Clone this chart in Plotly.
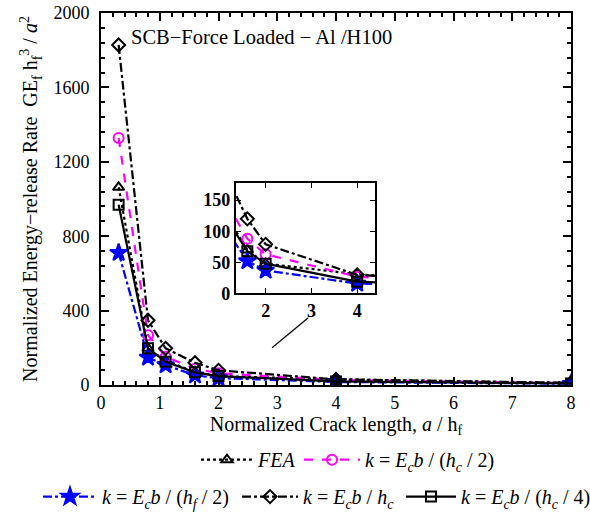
import plotly.graph_objects as go

x_vals = [0.3, 0.8, 1.1, 1.6, 2.0, 4.0, 8.0]
fea = [1063, 197, 130, 70, 48, 31, 10]
k_hc2 = [1328, 268, 152, 88, 63, 27, 10]
k_hf2 = [711, 148, 107, 52, 37, 16, 7]
k_hc = [1828, 348, 197, 120, 79, 30, 12]
k_hc4 = [969, 198, 125, 68, 48, 19, 8]

names = [
    "<i>FEA</i>",
    "<i>k</i> = <i>E<sub>c</sub>b</i> / (<i>h<sub>c</sub></i> / 2)",
    "<i>k</i> = <i>E<sub>c</sub>b</i> / (<i>h<sub>f</sub></i> / 2)",
    "<i>k</i> = <i>E<sub>c</sub>b</i> / <i>h<sub>c</sub></i>",
    "<i>k</i> = <i>E<sub>c</sub>b</i> / (<i>h<sub>c</sub></i> / 4)",
]
series = [fea, k_hc2, k_hf2, k_hc, k_hc4]
colors = ["black", "#ff00ff", "#0000ff", "black", "black"]
dashes = ["dot", "dash", "dashdot", "dashdot", "solid"]
symbols = ["triangle-up-open", "circle-open", "star", "diamond-open", "square-open"]
legend_ids = ["legend", "legend2", "legend3", "legend4", "legend5"]

fig = go.Figure()
for i in range(5):
    fig.add_trace(go.Scatter(
        x=x_vals, y=series[i], name=names[i], mode="lines+markers",
        line=dict(color=colors[i], dash=dashes[i], width=2.2),
        marker=dict(symbol=symbols[i], size=10 if symbols[i] != "star" else 13,
                    color=colors[i], line=dict(width=2, color=colors[i])),
        legend=legend_ids[i], showlegend=True,
    ))
for i in range(5):
    fig.add_trace(go.Scatter(
        x=x_vals, y=series[i], mode="lines+markers", showlegend=False,
        xaxis="x2", yaxis="y2",
        line=dict(color=colors[i], dash=dashes[i], width=2.2),
        marker=dict(symbol=symbols[i], size=10 if symbols[i] != "star" else 13,
                    color=colors[i], line=dict(width=2, color=colors[i])),
    ))

font_main = "Liberation Serif"
axis_common = dict(showline=True, linecolor="black", linewidth=2, mirror="ticks",
                   ticks="inside", tickcolor="black", showgrid=False, zeroline=False)


def leg(x_px, y_top, itemwidth):
    return dict(orientation="h", xref="container", yref="container",
                x=x_px / 590, y=y_top, xanchor="left", yanchor="top",
                font=dict(size=20), bgcolor="rgba(0,0,0,0)", itemwidth=itemwidth)


fig.update_layout(
    width=590, height=513,
    margin=dict(l=101, r=19, t=13, b=128, autoexpand=False),
    paper_bgcolor="white", plot_bgcolor="white",
    font=dict(family=font_main, size=17, color="black"),
    xaxis=dict(range=[0, 8], dtick=1, ticklen=8, tickwidth=1.5,
               minor=dict(ticks="inside", dtick=0.2, ticklen=4, tickcolor="black"),
               tickfont=dict(size=18), automargin=False,
               title=dict(text="Normalized Crack length, <i>a</i> / h<sub>f</sub>",
                          font=dict(size=20), standoff=0),
               **axis_common),
    yaxis=dict(range=[0, 2000], dtick=400, ticklen=8, tickwidth=1.5,
               minor=dict(ticks="inside", dtick=80, ticklen=4, tickcolor="black"),
               tickfont=dict(size=18), automargin=False, ticklabelstandoff=6,
               title=dict(text="Normalized Energy\u2212release Rate  GE<sub>f</sub> h<sub>f</sub><sup>3</sup> / <i>a</i><sup>2</sup>",
                          font=dict(size=20), standoff=10),
               **axis_common),
    xaxis2=dict(domain=[0.287, 0.584], anchor="y2", range=[1.35, 4.4],
                tickvals=[2, 3, 4], ticklen=5,
                tickfont=dict(size=18, weight="bold"),
                **axis_common),
    yaxis2=dict(domain=[0.246, 0.542], anchor="x2", range=[0, 177],
                tickvals=[0, 50, 100, 150], ticklen=5,
                tickfont=dict(size=18, weight="bold"),
                **axis_common),
    legend=leg(196, 0.142, 52),
    legend2=leg(299, 0.142, 56),
    legend3=leg(38, 0.07, 54),
    legend4=leg(237, 0.07, 56),
    legend5=leg(401, 0.07, 50),
    showlegend=True,
    annotations=[dict(text="SCB\u2212Force Loaded \u2212 Al /H100", x=0.06, y=0.936,
                      xref="paper", yref="paper", xanchor="left", yanchor="middle",
                      showarrow=False, font=dict(size=20.5))],
    shapes=[dict(type="line", xref="paper", yref="paper", x0=0.364, y0=0.100,
                 x1=0.441, y1=0.181, line=dict(color="black", width=1.2))],
)

fig.write_html("out.html", config={"displayModeBar": False},
               post_script="document.body.style.margin='0';")
